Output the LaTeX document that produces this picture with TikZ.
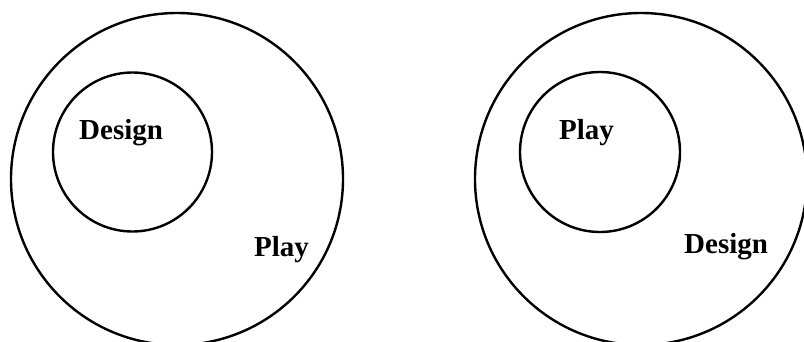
\documentclass[tikz,border=0pt]{standalone}
\usepackage{fontspec}
\setmainfont{Liberation Serif}
\usepackage{tikz}
\tikzstyle{ring} = [circle, draw=black, line width=2.4pt, inner sep=0pt]
\tikzstyle{word} = [inner sep=0pt, anchor=base west, font=\fontsize{29}{34}\selectfont\bfseries]

\begin{document}
\begin{tikzpicture}[x=1pt, y=-1pt]
\useasboundingbox (0,0) rectangle (804,341);
% left: design inside play
\node (outerL) [ring, minimum size=332pt] at (177,179) {};
\node (innerL) [ring, minimum size=159pt] at (132.5,152) {};
\node (designL) [word] at (79,139) {Design};
\node (playL) [word] at (254,256) {Play};
% right: play inside design
\node (outerR) [ring, minimum size=332pt] at (641,179) {};
\node (innerR) [ring, minimum size=160pt] at (600,152) {};
\node (playR) [word] at (559,139) {Play};
\node (designR) [word] at (684,253) {Design};
\end{tikzpicture}
\end{document}
